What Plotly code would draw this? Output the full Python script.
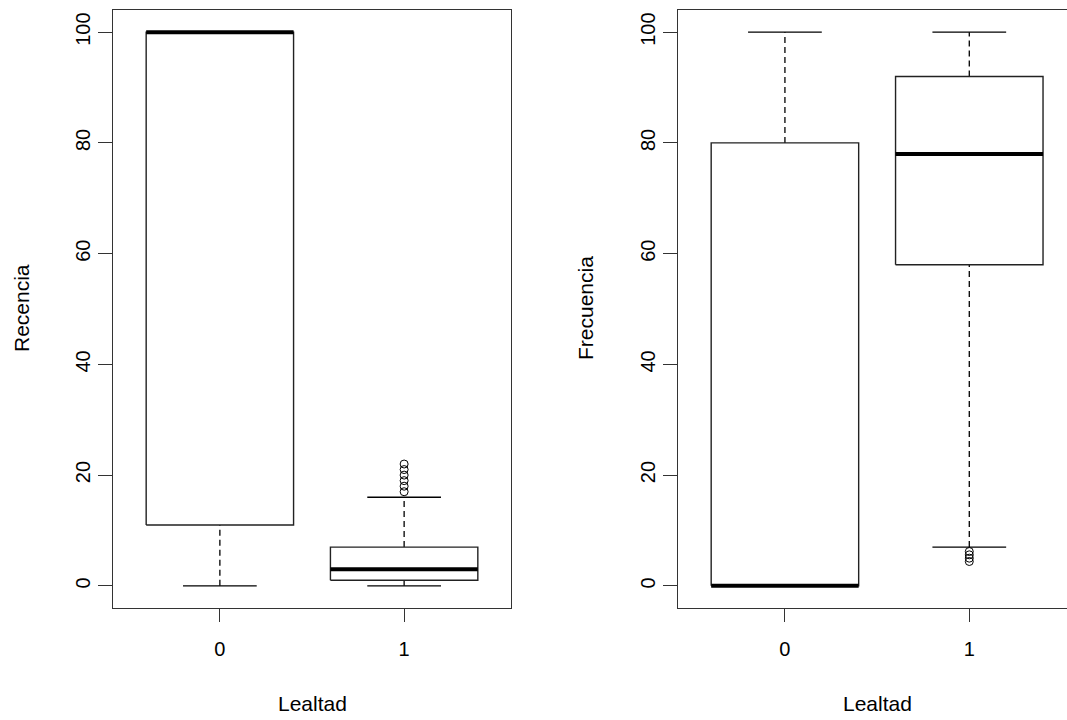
import plotly.graph_objects as go

# ---- data ----
categories = ["0", "1"]

rec_q1 = [11, 1]
rec_med = [100, 3]
rec_q3 = [100, 7]
rec_lo = [0, 0]
rec_hi = [100, 16]
rec_out = [[], [17, 18, 19, 20, 21, 22]]

freq_q1 = [0, 58]
freq_med = [0, 78]
freq_q3 = [80, 92]
freq_lo = [0, 7]
freq_hi = [100, 100]
freq_out = [[], [4.4, 5.0, 5.6, 6.2]]

y_ticks = [0, 20, 40, 60, 80, 100]

# ---- style ----
W, H = 1067, 720
FONT = "Liberation Sans, Arial, sans-serif"
INK = "#000000"
FRAME = "#333333"
BOXW = 0.8
CAPW = 0.4

fig = go.Figure()


def add_boxes(xref, yref, q1, med, q3, lo, hi, out):
    for i, cat in enumerate(categories):
        c = i + 1
        h = BOXW / 2
        k = CAPW / 2
        common = dict(xaxis=xref, yaxis=yref, showlegend=False, hoverinfo="skip", mode="lines")
        # whiskers (dashed)
        if hi[i] > q3[i]:
            fig.add_trace(go.Scatter(x=[c, c], y=[q3[i], hi[i]],
                                     line=dict(color=INK, width=1.3, dash="6px,4px"), **common))
        if q1[i] > lo[i]:
            fig.add_trace(go.Scatter(x=[c, c], y=[lo[i], q1[i]],
                                     line=dict(color=INK, width=1.3, dash="6px,4px"), **common))
        # box
        fig.add_trace(go.Scatter(x=[c - h, c + h, c + h, c - h, c - h],
                                 y=[q1[i], q1[i], q3[i], q3[i], q1[i]],
                                 fill="toself", fillcolor="white",
                                 line=dict(color="#222222", width=1.4), **common))
        # median
        fig.add_trace(go.Scatter(x=[c - h, c + h], y=[med[i], med[i]],
                                 line=dict(color=INK, width=4), **common))
        # caps
        fig.add_trace(go.Scatter(x=[c - k, c + k], y=[hi[i], hi[i]],
                                 line=dict(color=INK, width=1.3), **common))
        fig.add_trace(go.Scatter(x=[c - k, c + k], y=[lo[i], lo[i]],
                                 line=dict(color=INK, width=1.3), **common))
        # outliers
        if out[i]:
            fig.add_trace(go.Scatter(x=[c] * len(out[i]), y=out[i], mode="markers",
                                     marker=dict(symbol="circle-open", size=8,
                                                 color=INK, line=dict(width=1)),
                                     xaxis=xref, yaxis=yref, showlegend=False,
                                     hoverinfo="skip"))


add_boxes("x", "y", rec_q1, rec_med, rec_q3, rec_lo, rec_hi, rec_out)
add_boxes("x2", "y2", freq_q1, freq_med, freq_q3, freq_lo, freq_hi, freq_out)

ydom = [(H - 608) / H, (H - 10) / H]
left_dom = [113 / W, 511 / W]
right_dom = [678 / W, 1.0]

xcommon = dict(tickvals=[1, 2], ticktext=categories, ticks="outside", ticklen=13,
               tickcolor=FRAME, tickwidth=1.2, showline=True, linecolor=FRAME,
               linewidth=1.4, showgrid=False, zeroline=False,
               tickfont=dict(family=FONT, size=20, color=INK),
               ticklabelstandoff=10)
ycommon = dict(range=[-4, 104], tickvals=y_ticks, ticks="outside", ticklen=14,
               tickcolor=FRAME, tickwidth=1.2, showline=True, linecolor=FRAME,
               linewidth=1.4, showgrid=False, zeroline=False, tickangle=-90,
               tickfont=dict(family=FONT, size=20, color=INK),
               ticklabelstandoff=0)

ann_font = dict(family=FONT, size=21, color=INK)
fig.update_layout(
    width=W, height=H,
    margin=dict(l=0, r=0, t=0, b=0),
    paper_bgcolor="white", plot_bgcolor="white",
    xaxis=dict(domain=left_dom, range=[0.42, 2.58], mirror=True, anchor="y", **xcommon),
    yaxis=dict(domain=ydom, mirror=True, anchor="x", **ycommon),
    xaxis2=dict(domain=right_dom, range=[0.42, 2.53], mirror=True, anchor="y2", **xcommon),
    yaxis2=dict(domain=ydom, mirror=False, anchor="x2", **ycommon),
    annotations=[
        dict(text="Recencia", x=21 / W, y=(H - 308) / H, xref="paper", yref="paper",
             xanchor="center", yanchor="middle",
             textangle=-90, showarrow=False, font=ann_font),
        dict(text="Frecuencia", x=585 / W, y=(H - 308) / H, xref="paper", yref="paper",
             xanchor="center", yanchor="middle",
             textangle=-90, showarrow=False, font=ann_font),
        dict(text="Lealtad", x=312 / W, y=(H - 703) / H, xref="paper", yref="paper",
             xanchor="center", yanchor="middle", showarrow=False, font=ann_font),
        dict(text="Lealtad", x=877 / W, y=(H - 703) / H, xref="paper", yref="paper",
             xanchor="center", yanchor="middle", showarrow=False, font=ann_font),
    ],
)

fig.write_html(
    "out.html",
    config={"displayModeBar": False},
    post_script="document.body.style.margin='0';document.body.style.overflow='hidden';",
)
